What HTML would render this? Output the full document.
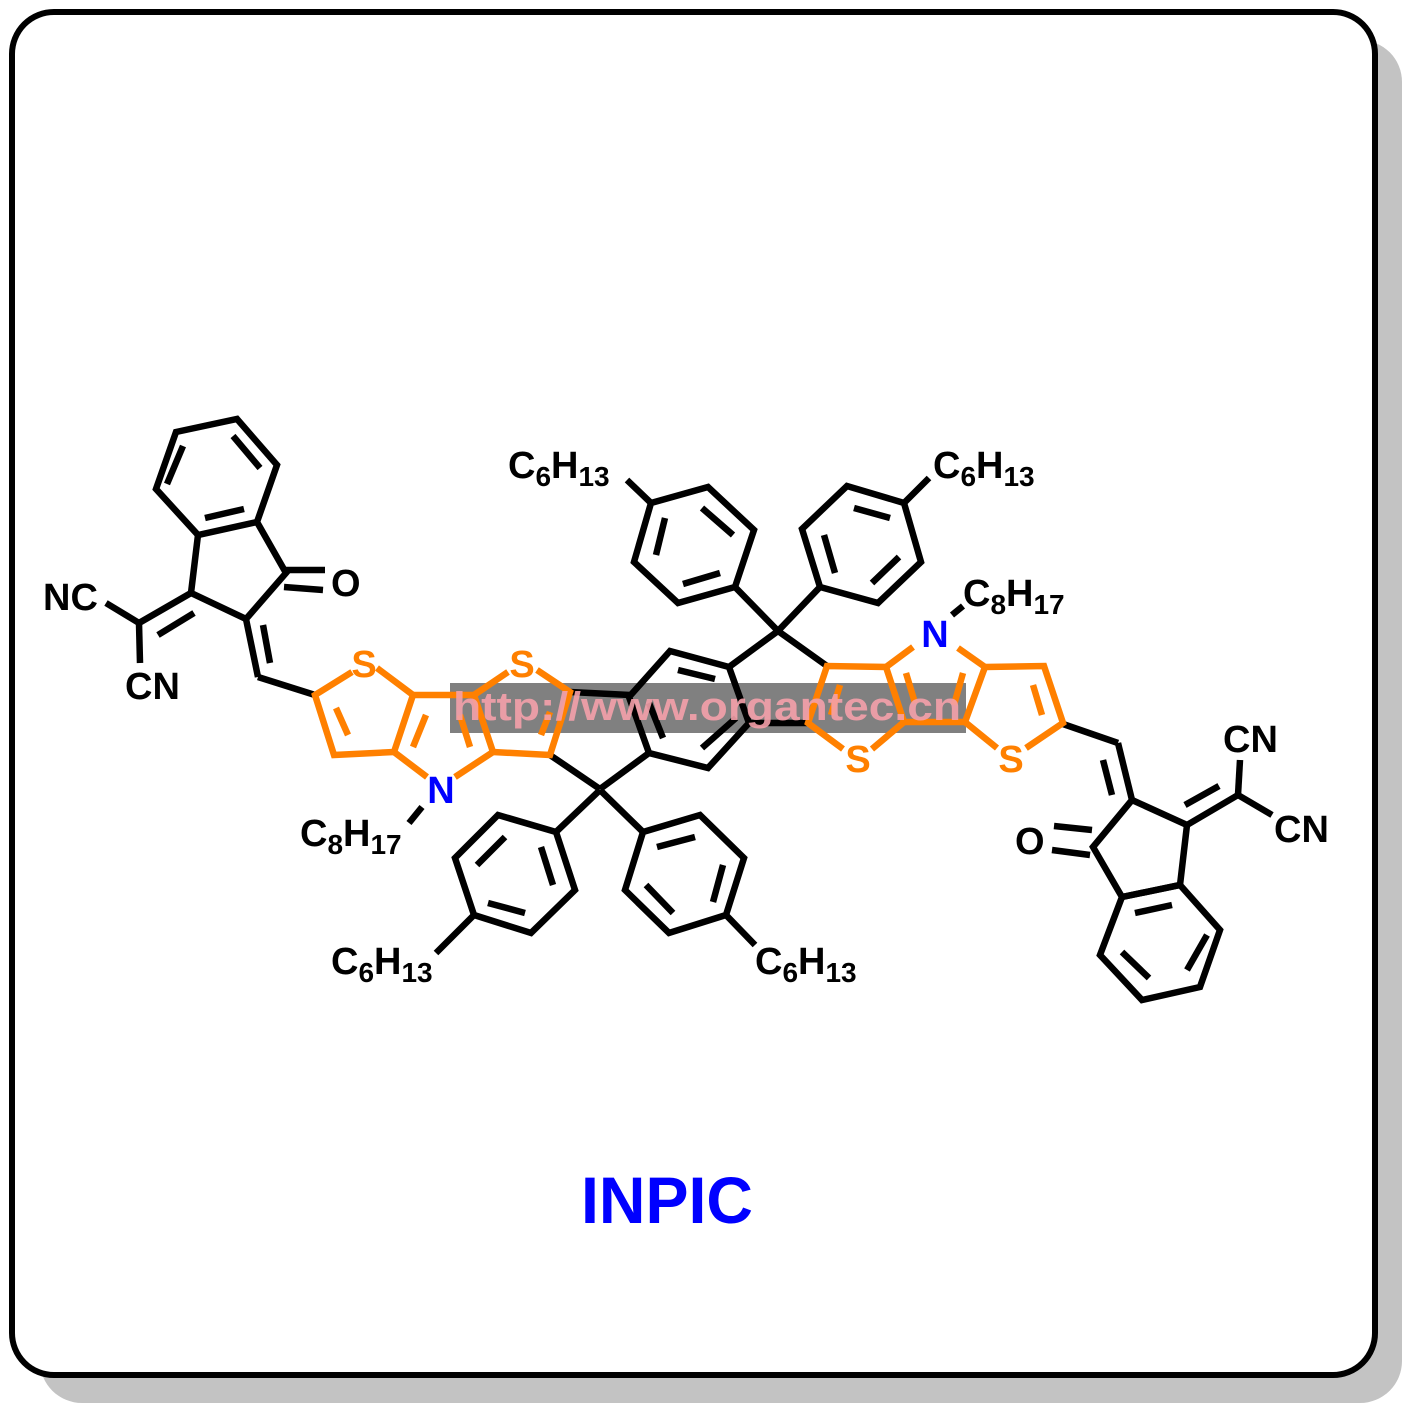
<!DOCTYPE html>
<html><head><meta charset="utf-8"><style>
html,body{margin:0;padding:0;background:#fff;}
svg{display:block;}
text{font-family:"Liberation Sans",Arial,sans-serif;font-weight:bold;}
</style></head><body>
<svg width="1417" height="1417" viewBox="0 0 1417 1417" xmlns="http://www.w3.org/2000/svg">
<rect x="40" y="40" width="1362" height="1363" rx="42" fill="#c3c3c3"/>
<rect x="12" y="12" width="1363" height="1363" rx="42" fill="#fff" stroke="#000" stroke-width="6"/>
<rect x="450" y="683" width="516" height="50" fill="#808080"/>

<g stroke="#000" stroke-width="6.5" stroke-linecap="butt" stroke-linejoin="miter" fill="none">
<polygon points="176,432 237,419 277,465 257,522 198,535 156,489"/>
<line x1="167" y1="484" x2="183" y2="446"/><line x1="233" y1="436" x2="260" y2="468"/><line x1="244" y1="509" x2="205" y2="518"/>
<polyline points="198,535 191,593 246,619 286,573 257,522"/>
<line x1="286" y1="570" x2="325" y2="570"/><line x1="284" y1="587" x2="323" y2="590"/>
<line x1="191" y1="593" x2="139" y2="623"/><line x1="158" y1="635" x2="194" y2="613"/>
<line x1="139" y1="623" x2="106" y2="603"/><line x1="139" y1="623" x2="140" y2="663"/>
<line x1="246" y1="619" x2="258" y2="677"/><line x1="263" y1="625" x2="270" y2="663"/>
<line x1="258" y1="677" x2="315" y2="695"/>
<line x1="570" y1="692" x2="630" y2="695"/>
<line x1="550" y1="755" x2="600" y2="789"/>
<polygon points="729,667 670,651 629,697 649,753 708,768 749,723"/>
<line x1="678" y1="670" x2="715" y2="679"/><line x1="649" y1="703" x2="663" y2="738"/><line x1="702" y1="748" x2="736" y2="718"/>
<line x1="649" y1="753" x2="600" y2="789"/>
<line x1="729" y1="667" x2="778" y2="631"/><line x1="778" y1="631" x2="827" y2="666"/>
<line x1="749" y1="723" x2="807" y2="723"/>
<polygon points="651,503 708,487 754,530 735,587 678,603 634,562"/>
<line x1="702" y1="508" x2="733" y2="535"/><line x1="656" y1="555" x2="665" y2="518"/><line x1="720" y1="573" x2="683" y2="584"/>
<line x1="735" y1="587" x2="778" y2="631"/><line x1="651" y1="503" x2="627" y2="480"/>
<polygon points="820,587 802,529 847,486 904,503 921,562 878,603"/>
<line x1="824" y1="535" x2="835" y2="573"/><line x1="854" y1="508" x2="890" y2="518"/><line x1="899" y1="557" x2="872" y2="583"/>
<line x1="820" y1="587" x2="778" y2="631"/><line x1="904" y1="503" x2="929" y2="478"/>
<polygon points="556,832 498,815 455,858 474,915 531,933 575,890"/>
<line x1="541" y1="847" x2="553" y2="885"/><line x1="505" y1="837" x2="477" y2="865"/><line x1="488" y1="903" x2="525" y2="913"/>
<line x1="600" y1="790" x2="556" y2="832"/><line x1="474" y1="915" x2="436" y2="953"/>
<polygon points="643,832 700,815 744,858 726,915 669,933 625,890"/>
<line x1="657" y1="847" x2="695" y2="837"/><line x1="723" y1="865" x2="713" y2="902"/><line x1="673" y1="913" x2="646" y2="885"/>
<line x1="600" y1="790" x2="643" y2="832"/><line x1="726" y1="915" x2="755" y2="945"/>
<line x1="422" y1="807" x2="409" y2="823"/>
<line x1="952" y1="615" x2="963" y2="606"/>
<line x1="1063" y1="724" x2="1118" y2="743"/>
<line x1="1118" y1="743" x2="1132" y2="800"/><line x1="1103" y1="760" x2="1112" y2="795"/>
<polyline points="1132,800 1187,825 1180,885 1122,897 1093,847 1132,800"/>
<line x1="1092" y1="830" x2="1054" y2="826"/><line x1="1090" y1="855" x2="1052" y2="850"/>
<polygon points="1122,897 1180,885 1220,930 1200,987 1142,1000 1100,955"/>
<line x1="1135" y1="913" x2="1172" y2="905"/><line x1="1207" y1="935" x2="1187" y2="970"/><line x1="1149" y1="978" x2="1122" y2="952"/>
<line x1="1187" y1="825" x2="1238" y2="795"/><line x1="1185" y1="805" x2="1219" y2="786"/>
<line x1="1238" y1="795" x2="1240" y2="760"/><line x1="1238" y1="795" x2="1272" y2="815"/>
</g>

<g stroke="#ff8000" stroke-width="6.5" fill="none" stroke-linejoin="miter">
<polyline points="352,672 315,695 334,755 394,752 413,695 377,668"/>
<line x1="336" y1="708" x2="348" y2="735"/><line x1="426" y1="715" x2="413" y2="747"/>
<line x1="394" y1="752" x2="427" y2="777"/><line x1="455" y1="777" x2="493" y2="752"/>
<line x1="413" y1="695" x2="474" y2="695"/>
<polyline points="474,695 493,752 550,755 570,692 537,670"/>
<line x1="460" y1="715" x2="470" y2="747"/><line x1="550" y1="712" x2="541" y2="735"/>
<line x1="474" y1="695" x2="508" y2="672"/>
<polyline points="843,749 808,723 827,666 886,667 904,722 872,749"/>
<line x1="840" y1="685" x2="831" y2="715"/>
<line x1="906" y1="673" x2="915" y2="703"/>
<line x1="886" y1="667" x2="913" y2="647"/><line x1="958" y1="648" x2="985" y2="667"/>
<line x1="904" y1="722" x2="965" y2="722"/>
<polyline points="985,667 965,722 997,748"/>
<line x1="963" y1="673" x2="954" y2="705"/>
<polyline points="985,667 1044,666 1063,723 1026,748"/>
<line x1="1033" y1="685" x2="1042" y2="715"/>
</g>

<g font-size="38" fill="#ff8000" text-anchor="middle">
<text x="364" y="677">S</text><text x="522" y="677">S</text>
<text x="858" y="772">S</text><text x="1011" y="772">S</text>
</g>
<g font-size="38" fill="#0000ff" text-anchor="middle">
<text x="441" y="803">N</text><text x="935" y="647">N</text>
</g>
<g font-size="38" fill="#000">
<text x="43" y="610">NC</text>
<text x="125" y="699">CN</text>
<text x="331" y="596">O</text>
<text x="1015" y="854">O</text>
<text x="1223" y="752">CN</text>
<text x="1274" y="842">CN</text>
<text x="508" y="478">C<tspan font-size="28" dy="8">6</tspan><tspan dy="-8">H</tspan><tspan font-size="28" dy="8">13</tspan></text>
<text x="933" y="478">C<tspan font-size="28" dy="8">6</tspan><tspan dy="-8">H</tspan><tspan font-size="28" dy="8">13</tspan></text>
<text x="963" y="606">C<tspan font-size="28" dy="8">8</tspan><tspan dy="-8">H</tspan><tspan font-size="28" dy="8">17</tspan></text>
<text x="300" y="846">C<tspan font-size="28" dy="8">8</tspan><tspan dy="-8">H</tspan><tspan font-size="28" dy="8">17</tspan></text>
<text x="331" y="974">C<tspan font-size="28" dy="8">6</tspan><tspan dy="-8">H</tspan><tspan font-size="28" dy="8">13</tspan></text>
<text x="755" y="974">C<tspan font-size="28" dy="8">6</tspan><tspan dy="-8">H</tspan><tspan font-size="28" dy="8">13</tspan></text>
</g>
<text x="453" y="720" font-size="40" fill="#f4a0aa" fill-opacity="0.9" textLength="508" lengthAdjust="spacingAndGlyphs">http://www.organtec.cn</text>
<text x="581" y="1223" font-size="66" fill="#0000ff" textLength="172" lengthAdjust="spacingAndGlyphs">INPIC</text>
</svg>
</body></html>
